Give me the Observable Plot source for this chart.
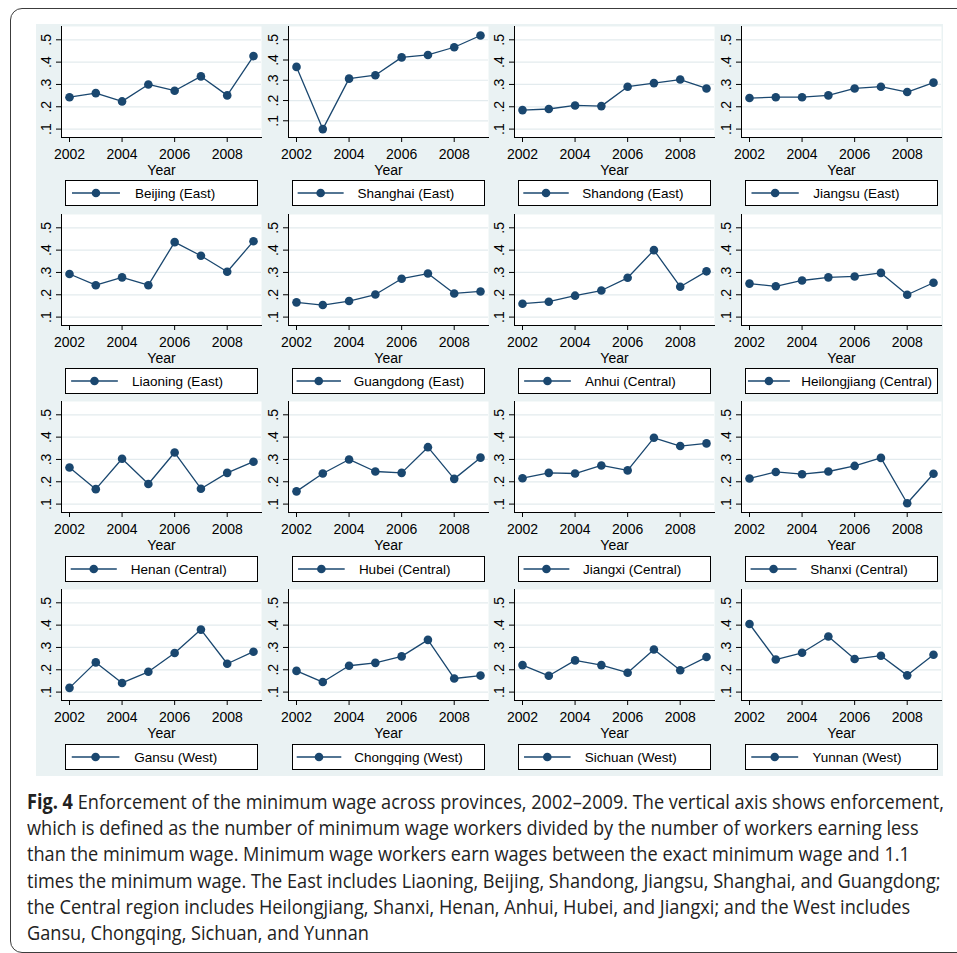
<!DOCTYPE html>
<html><head><meta charset="utf-8">
<script src="https://cdn.jsdelivr.net/npm/d3@7"></script>
<script src="https://cdn.jsdelivr.net/npm/@observablehq/plot@0.6"></script>
<style>
html,body{margin:0;padding:0;background:#fff;}
#root{position:relative;width:957px;height:953px;overflow:hidden;font-family:"Liberation Sans",Arial,sans-serif;}
#frame{position:absolute;left:10px;top:8px;width:990px;height:945px;border:1.5px solid #3c3c3c;border-radius:12px;box-sizing:border-box;}
#bg{position:absolute;left:36px;top:24px;width:907px;height:752px;background:#eaf2f3;}
.panel{position:absolute;overflow:visible;}
.legend{position:absolute;overflow:visible;}
#caption{position:absolute;left:27px;top:788px;font-size:20.5px;line-height:26.2px;color:#222;
  font-family:"Open Sans","Noto Sans",sans-serif;white-space:nowrap;transform-origin:0 0;}
#caption .ln{display:block;}
</style>
</head><body>
<div id="root">
  <div id="frame"></div>
  <div id="bg"></div>
  <div id="caption">
    <div class="ln"><span id="l1"><b>Fig. 4</b> Enforcement of the minimum wage across provinces, 2002–2009. The vertical axis shows enforcement,</span></div>
    <div class="ln"><span>which is defined as the number of minimum wage workers divided by the number of workers earning less</span></div>
    <div class="ln"><span>than the minimum wage. Minimum wage workers earn wages between the exact minimum wage and 1.1</span></div>
    <div class="ln"><span>times the minimum wage. The East includes Liaoning, Beijing, Shandong, Jiangsu, Shanghai, and Guangdong;</span></div>
    <div class="ln"><span>the Central region includes Heilongjiang, Shanxi, Henan, Anhui, Hubei, and Jiangxi; and the West includes</span></div>
    <div class="ln"><span>Gansu, Chongqing, Sichuan, and Yunnan</span></div>
  </div>
</div>
<script>
const years = [2002, 2003, 2004, 2005, 2006, 2007, 2008, 2009];

const beijing      = [0.243, 0.261, 0.224, 0.300, 0.272, 0.336, 0.251, 0.427];
const shanghai     = [0.366, 0.059, 0.308, 0.325, 0.413, 0.425, 0.463, 0.521];
const shandong     = [0.185, 0.190, 0.206, 0.203, 0.290, 0.306, 0.322, 0.282];
const jiangsu      = [0.239, 0.243, 0.243, 0.251, 0.282, 0.290, 0.266, 0.308];
const liaoning     = [0.293, 0.243, 0.278, 0.243, 0.436, 0.375, 0.303, 0.440];
const guangdong    = [0.166, 0.154, 0.172, 0.201, 0.272, 0.295, 0.206, 0.215];
const anhui        = [0.160, 0.169, 0.196, 0.219, 0.276, 0.400, 0.236, 0.305];
const heilongjiang = [0.250, 0.238, 0.264, 0.278, 0.282, 0.298, 0.200, 0.254];
const henan        = [0.264, 0.167, 0.303, 0.190, 0.331, 0.169, 0.240, 0.290];
const hubei        = [0.157, 0.237, 0.300, 0.246, 0.240, 0.355, 0.213, 0.308];
const jiangxi      = [0.216, 0.240, 0.237, 0.273, 0.251, 0.397, 0.360, 0.372];
const shanxi       = [0.215, 0.244, 0.234, 0.246, 0.271, 0.307, 0.104, 0.236];
const gansu        = [0.119, 0.233, 0.141, 0.191, 0.275, 0.380, 0.227, 0.281];
const chongqing    = [0.195, 0.145, 0.218, 0.231, 0.260, 0.334, 0.161, 0.174];
const sichuan      = [0.221, 0.173, 0.242, 0.221, 0.187, 0.291, 0.198, 0.257];
const yunnan       = [0.405, 0.246, 0.276, 0.349, 0.248, 0.263, 0.175, 0.267];

const panelNames = [
  "Beijing (East)", "Shanghai (East)", "Shandong (East)", "Jiangsu (East)",
  "Liaoning (East)", "Guangdong (East)", "Anhui (Central)", "Heilongjiang (Central)",
  "Henan (Central)", "Hubei (Central)", "Jiangxi (Central)", "Shanxi (Central)",
  "Gansu (West)", "Chongqing (West)", "Sichuan (West)", "Yunnan (West)"
];
const panelValues = [
  beijing, shanghai, shandong, jiangsu,
  liaoning, guangdong, anhui, heilongjiang,
  henan, hubei, jiangxi, shanxi,
  gansu, chongqing, sichuan, yunnan
];

const yTicks = [0.1, 0.2, 0.3, 0.4, 0.5];
const yTickLabels = [".1", ".2", ".3", ".4", ".5"];
const xTicks = [2002, 2004, 2006, 2008];
const xTickLabels = ["2002", "2004", "2006", "2008"];
const xLabel = "Year";

const NAVY = "#1a476f";
const FONT = "'Liberation Sans', Arial, Helvetica, sans-serif";
const root = document.getElementById("root");
const ctx = document.createElement("canvas").getContext("2d");
ctx.font = "13.5px " + FONT;

panelNames.forEach((name, i) => {
  const r = Math.floor(i / 4), c = i % 4;
  const axisX = 61 + c * 226.7;
  const axisY = 136.7 + r * 187.8;
  const vals = panelValues[i];
  const data = years.map((year, j) => ({year, value: vals[j]}));
  const dmin = d3.min(vals), dmax = d3.max(vals);
  const lo = Math.min(0.1, dmin), hi = Math.max(0.5, dmax);

  const chart = Plot.plot({
    width: 227, height: 150,
    marginLeft: 25, marginRight: 2, marginTop: 1, marginBottom: 38,
    style: {background: "transparent", fontFamily: FONT, fontSize: "14px", color: "#000", overflow: "visible"},
    x: {domain: [2002, 2009], insetLeft: 8, insetRight: 8},
    y: {domain: [lo, hi], insetTop: dmax > 0.5 ? 9 : 13.3, insetBottom: 8.4},
    marks: [
      Plot.frame({fill: "white", stroke: "none"}),
      Plot.gridY(yTicks, {stroke: "#e3ebee", strokeOpacity: 1, strokeWidth: 1.2}),
      Plot.axisY(yTicks, {
        tickFormat: d => yTickLabels[yTicks.indexOf(d)],
        tickRotate: -90, tickSize: 5, tickPadding: 5.3, label: null, fontSize: 14
      }),
      Plot.axisX(xTicks, {
        tickFormat: d => xTickLabels[xTicks.indexOf(d)],
        tickSize: 5, tickPadding: 6.6, label: xLabel, labelAnchor: "center",
        labelOffset: 37, labelArrow: "none", fontSize: 14
      }),
      Plot.frame({anchor: "left", stroke: "#000"}),
      Plot.frame({anchor: "bottom", stroke: "#000"}),
      Plot.line(data, {x: "year", y: "value", stroke: NAVY, strokeWidth: 1.3}),
      Plot.dot(data, {x: "year", y: "value", r: 4.3, fill: NAVY, stroke: "none"})
    ]
  });
  chart.classList.add("panel");
  chart.style.left = (axisX - 25) + "px";
  chart.style.top = (axisY - 112) + "px";
  root.appendChild(chart);

  // legend box
  const w = ctx.measureText(name).width;
  const symStart = 7 - 0.08 * (w - 80);
  const symLen = 48 - 0.12 * (w - 80);
  const textStart = 70 - 0.27 * (w - 80);
  const BW = 193, BH = 26;
  const svg = d3.create("svg").attr("class", "legend")
    .attr("width", BW).attr("height", BH)
    .style("left", (axisX + 4) + "px").style("top", (axisY + 43.5) + "px");
  svg.append("rect").attr("x", 0.5).attr("y", 0.5).attr("width", BW - 1).attr("height", BH - 1)
    .attr("fill", "#fff").attr("stroke", "#000").attr("stroke-width", 1);
  svg.append("line").attr("x1", symStart).attr("x2", symStart + symLen).attr("y1", 13).attr("y2", 13)
    .attr("stroke", NAVY).attr("stroke-width", 1.3);
  svg.append("circle").attr("cx", symStart + symLen / 2).attr("cy", 13).attr("r", 4.3).attr("fill", NAVY);
  svg.append("text").attr("x", textStart).attr("y", 13).attr("dy", "0.35em")
    .attr("font-family", FONT).attr("font-size", 13.5).attr("fill", "#000")
    .text(name);
  root.appendChild(svg.node());
});

// fit caption width to the reference line length
const cap = document.getElementById("caption");
const l1w = document.getElementById("l1").getBoundingClientRect().width;
cap.style.transform = `scaleX(${917 / l1w})`;
</script>
</body></html>
